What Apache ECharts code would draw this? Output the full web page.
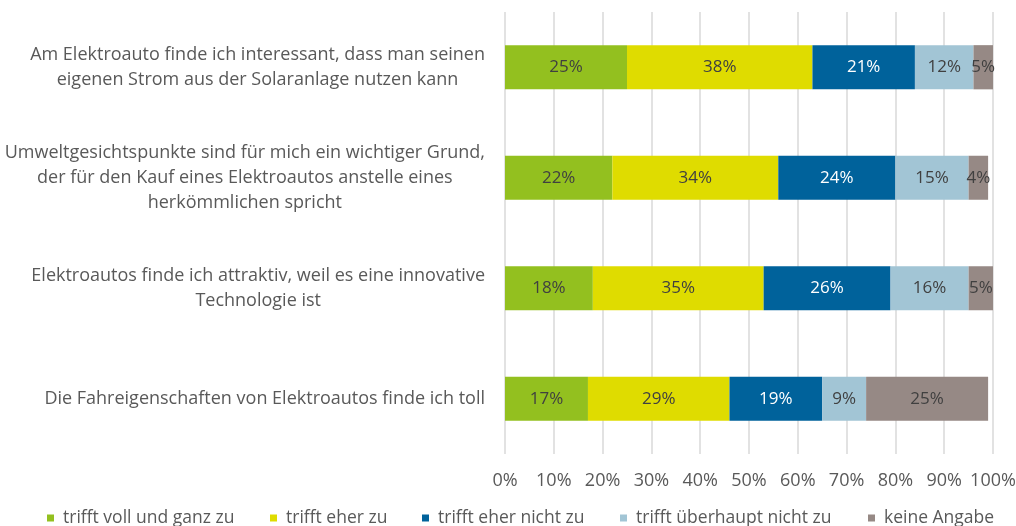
<!DOCTYPE html>
<html>
<head>
<meta charset="utf-8">
<script src="https://cdn.jsdelivr.net/npm/echarts@6/dist/echarts.min.js"></script>
<style>
  html, body { margin: 0; padding: 0; background: #fff; }
  #chart { width: 1016px; height: 526px; }
</style>
</head>
<body>
<div id="chart"></div>
<script>
// Statements (top to bottom)
const statements = [
  'Am Elektroauto finde ich interessant, dass man seinen\neigenen Strom aus der Solaranlage nutzen kann',
  'Umweltgesichtspunkte sind für mich ein wichtiger Grund,\nder für den Kauf eines Elektroautos anstelle eines\nherkömmlichen spricht',
  'Elektroautos finde ich attraktiv, weil es eine innovative\nTechnologie ist',
  'Die Fahreigenschaften von Elektroautos finde ich toll'
];

// Answer shares in percent, one value per statement
const trifftVollUndGanzZu = [25, 22, 18, 17];
const trifftEherZu = [38, 34, 35, 29];
const trifftEherNichtZu = [21, 24, 26, 19];
const trifftUeberhauptNichtZu = [12, 15, 16, 9];
const keineAngabe = [5, 4, 5, 25];

const seriesNames = [
  'trifft voll und ganz zu',
  'trifft eher zu',
  'trifft eher nicht zu',
  'trifft überhaupt nicht zu',
  'keine Angabe'
];
const seriesValues = [trifftVollUndGanzZu, trifftEherZu, trifftEherNichtZu, trifftUeberhauptNichtZu, keineAngabe];
const colors = ['#93c01f', '#dfdc00', '#00629b', '#a2c5d5', '#968985'];
const labelColors = ['#404040', '#404040', '#ffffff', '#404040', '#404040'];

const FONT = 'Open Sans';
const TEXT = '#595959';

const chart = echarts.init(document.getElementById('chart'), null, { renderer: 'canvas' });

const series = seriesNames.map((name, i) => ({
  name,
  type: 'bar',
  stack: 'total',
  barWidth: '40%',
  data: seriesValues[i],
  itemStyle: { color: colors[i] },
  label: {
    show: true,
    position: 'inside',
    formatter: '{c}%',
    color: labelColors[i],
    fontFamily: FONT,
    fontSize: 17
  },
  emphasis: { disabled: true }
}));

// one legend block per answer, placed along the bottom row
const legendLeft = [42, 265, 417, 615, 863];
const legends = seriesNames.map((name, i) => ({
  data: [name],
  left: legendLeft[i],
  top: 504,
  itemWidth: 7,
  itemHeight: 7,
  itemGap: 0,
  icon: 'rect',
  selectedMode: false,
  textStyle: { color: TEXT, fontFamily: FONT, fontSize: 17.5, padding: [0, 0, 0, 4] }
}));

chart.setOption({
  animation: false,
  color: colors,
  grid: {
    left: 505, right: 23, top: 12, bottom: 72,
    containLabel: false,
    outerBoundsMode: 'none'
  },
  legend: legends,
  xAxis: {
    type: 'value',
    min: 0,
    max: 100,
    interval: 10,
    axisLine: { show: false },
    axisTick: { show: false },
    splitLine: { show: true, lineStyle: { color: '#d9d9d9', width: 1.5 } },
    axisLabel: {
      formatter: '{value}%',
      color: TEXT,
      fontFamily: FONT,
      fontSize: 18,
      margin: 18
    }
  },
  yAxis: {
    type: 'category',
    inverse: true,
    data: statements,
    axisLine: { show: false },
    axisTick: { show: false },
    splitLine: { show: false },
    axisLabel: {
      margin: 20,
      formatter: v => '{t|' + v + '}',
      rich: {
        t: {
          align: 'center',
          color: TEXT,
          fontFamily: FONT,
          fontSize: 18,
          lineHeight: 25
        }
      }
    }
  },
  series
});
</script>
</body>
</html>
